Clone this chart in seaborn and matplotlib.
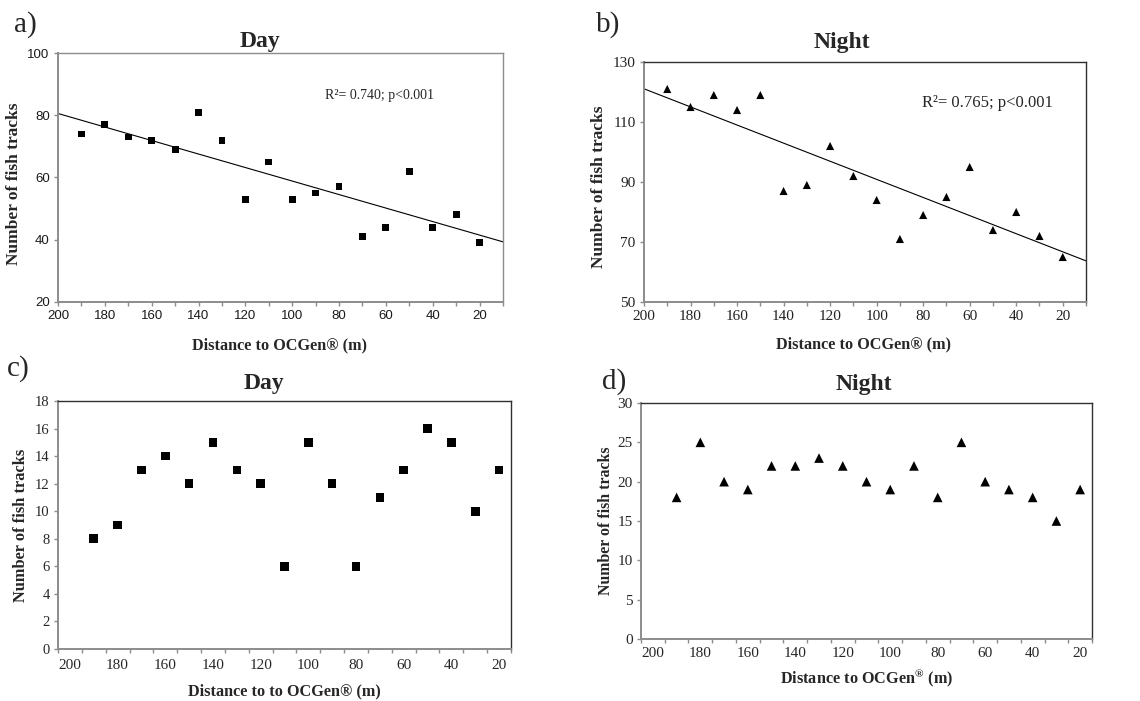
import numpy as np
import pandas as pd
import matplotlib
matplotlib.use("Agg")
import matplotlib.pyplot as plt
import seaborn as sns
from matplotlib.ticker import MultipleLocator, NullFormatter

# ---------------- data ----------------
distance = [190, 180, 170, 160, 150, 140, 130, 120, 110, 100, 90, 80, 70, 60, 50, 40, 30, 20]
day_tracks_a = [74, 77, 73, 72, 69, 81, 72, 53, 65, 53, 55, 57, 41, 44, 62, 44, 48, 39]
night_tracks_b = [121, 115, 119, 114, 119, 87, 89, 102, 92, 84, 71, 79, 85, 95, 74, 80, 72, 65]
day_tracks_c = [8, 9, 13, 14, 12, 15, 13, 12, 6, 15, 12, 6, 11, 13, 16, 15, 10, 13]
night_tracks_d = [18, 25, 20, 19, 22, 22, 23, 22, 20, 19, 22, 18, 25, 20, 19, 18, 15, 19]

yticks_a = [20, 40, 60, 80, 100]
yticks_b = [50, 70, 90, 110, 130]

panel_letters = ["a)", "b)", "c)", "d)"]
titles = ["Day", "Night", "Day", "Night"]
ylabel = "Number of fish tracks"
xlabels = ["Distance to OCGen® (m)", "Distance to OCGen® (m)",
           "Distance to to OCGen® (m)", r"Distance to OCGen$^{\mathbf{®}}$ (m)"]
stats_a = "R²= 0.740; p<0.001"
stats_b = "R²= 0.765; p<0.001"

# ---------------- style ----------------
sns.set_theme(style="white")
plt.rcParams['font.family'] = ['Liberation Serif', 'DejaVu Serif']
plt.rcParams['mathtext.fontset'] = 'custom'
plt.rcParams['mathtext.rm'] = 'Liberation Serif'
plt.rcParams['mathtext.bf'] = 'Liberation Serif:bold'

W, H = 1140, 701
fig = plt.figure(figsize=(W / 100, H / 100), dpi=100)
fig.patch.set_facecolor("white")

GREY = "#8c8c8c"
DARK = "#303030"


def add_ax(l, t, r, b):
    return fig.add_axes([l / W, 1 - b / H, (r - l) / W, (b - t) / H])


def style_spines(ax, topright):
    for s in ["left", "bottom"]:
        ax.spines[s].set_color(GREY)
        ax.spines[s].set_linewidth(1.4)
    for s in ["top", "right"]:
        ax.spines[s].set_color(topright)
        ax.spines[s].set_linewidth(1.0)


def ftext(x, y, s, **kw):
    fig.text(x / W, 1 - y / H, s, **kw)


df = pd.DataFrame({"distance": distance, "a": day_tracks_a, "b": night_tracks_b,
                   "c": day_tracks_c, "d": night_tracks_d})

# ---------------- panel a ----------------
ax_a = add_ax(58, 53, 503, 302)
ax_a.set_xlim(200, 10)
ax_a.set_ylim(20, 100)
sns.regplot(data=df, x="distance", y="a", ax=ax_a, scatter=False, ci=None, truncate=False,
            line_kws=dict(color="black", lw=0.8))
sns.scatterplot(data=df, x="distance", y="a", ax=ax_a, marker="s", s=24, color="black",
                edgecolor="none", zorder=3)
ax_a.set_xlim(200, 10)
ax_a.set_ylim(20, 100)
ax_a.xaxis.set_major_locator(MultipleLocator(20))
ax_a.xaxis.set_minor_locator(MultipleLocator(10))
ax_a.set_yticks(yticks_a)
style_spines(ax_a, GREY)
ax_a.tick_params(axis="both", which="both", direction="out", length=3, width=1, color=GREY,
                 bottom=True, left=True, pad=3)
for lab in ax_a.get_xticklabels() + ax_a.get_yticklabels():
    lab.set_family(["Liberation Sans", "DejaVu Sans"])
    lab.set_fontsize(9.5)
    lab.set_color("#1a1a1a")
ax_a.set_xlabel("")
ax_a.set_ylabel("")
ax_a.text(0.60, 0.83, stats_a, transform=ax_a.transAxes, fontsize=10, ha="left", va="center")

# ---------------- panel b ----------------
ax_b = add_ax(644, 62, 1086, 302)
ax_b.set_xlim(200, 10)
ax_b.set_ylim(50, 130)
sns.regplot(data=df, x="distance", y="b", ax=ax_b, scatter=False, ci=None, truncate=False,
            line_kws=dict(color="black", lw=0.8))
sns.scatterplot(data=df, x="distance", y="b", ax=ax_b, marker="^", s=34, color="black",
                edgecolor="none", zorder=3)
ax_b.set_xlim(200, 10)
ax_b.set_ylim(50, 130)
ax_b.xaxis.set_major_locator(MultipleLocator(20))
ax_b.xaxis.set_minor_locator(MultipleLocator(10))
ax_b.set_yticks(yticks_b)
style_spines(ax_b, DARK)
ax_b.tick_params(axis="both", which="both", direction="out", length=3, width=1, color=GREY,
                 bottom=True, left=True, pad=3, labelsize=11, labelcolor="#222222")
ax_b.set_xlabel("")
ax_b.set_ylabel("")
ax_b.text(0.63, 0.83, stats_b, transform=ax_b.transAxes, fontsize=12, ha="left", va="center")

# ---------------- panel c ----------------
ax_c = add_ax(58, 401, 511, 649)
sns.scatterplot(data=df, x="distance", y="c", ax=ax_c, marker="s", s=38, color="black",
                edgecolor="none", zorder=3)
ax_c.set_xlim(205, 15)
ax_c.set_ylim(0, 18)
ax_c.xaxis.set_major_locator(MultipleLocator(20))
ax_c.xaxis.set_minor_locator(MultipleLocator(10, offset=5))
ax_c.xaxis.set_minor_formatter(NullFormatter())
ax_c.yaxis.set_major_locator(MultipleLocator(2))
style_spines(ax_c, DARK)
ax_c.tick_params(axis="x", which="major", length=0, pad=7, labelsize=11)
ax_c.tick_params(axis="x", which="minor", direction="out", length=3, width=1, color=GREY, bottom=True)
ax_c.tick_params(axis="y", which="major", direction="out", length=3, width=1, color=GREY, left=True,
                 pad=3, labelsize=10.5)
ax_c.set_xlabel("")
ax_c.set_ylabel("")

# ---------------- panel d ----------------
ax_d = add_ax(641, 403, 1092, 639)
sns.scatterplot(data=df, x="distance", y="d", ax=ax_d, marker="^", s=48, color="black",
                edgecolor="none", zorder=3)
ax_d.set_xlim(205, 15)
ax_d.set_ylim(0, 30)
ax_d.xaxis.set_major_locator(MultipleLocator(20))
ax_d.xaxis.set_minor_locator(MultipleLocator(10, offset=5))
ax_d.xaxis.set_minor_formatter(NullFormatter())
ax_d.yaxis.set_major_locator(MultipleLocator(5))
style_spines(ax_d, DARK)
ax_d.tick_params(axis="x", which="major", length=0, pad=6, labelsize=11)
ax_d.tick_params(axis="x", which="minor", direction="out", length=3, width=1, color=GREY, bottom=True)
ax_d.tick_params(axis="y", which="major", direction="out", length=3, width=1, color=GREY, left=True,
                 pad=3, labelsize=11)
ax_d.set_xlabel("")
ax_d.set_ylabel("")

# ---------------- texts ----------------
# panel letters
ftext(14, 32, panel_letters[0], fontsize=21, ha="left", va="baseline")
ftext(596, 32, panel_letters[1], fontsize=21, ha="left", va="baseline")
ftext(7, 376, panel_letters[2], fontsize=21, ha="left", va="baseline")
ftext(602, 389, panel_letters[3], fontsize=21, ha="left", va="baseline")

# titles
ftext(260, 47, titles[0], fontsize=17, fontweight="bold", ha="center", va="baseline")
ftext(842, 48, titles[1], fontsize=17, fontweight="bold", ha="center", va="baseline")
ftext(264, 389, titles[2], fontsize=17, fontweight="bold", ha="center", va="baseline")
ftext(864, 390, titles[3], fontsize=17, fontweight="bold", ha="center", va="baseline")

# x labels
ftext(280, 345, xlabels[0], fontsize=11.7, fontweight="bold", ha="center", va="center")
ftext(864, 344, xlabels[1], fontsize=11.7, fontweight="bold", ha="center", va="center")
ftext(284, 691, xlabels[2], fontsize=11.7, fontweight="bold", ha="center", va="center")
ftext(867, 678, xlabels[3], fontsize=11.7, fontweight="bold", ha="center", va="center")

# y labels
ftext(14, 184, ylabel, fontsize=12.5, fontweight="bold", rotation=90, ha="center", va="center")
ftext(599, 187, ylabel, fontsize=12.5, fontweight="bold", rotation=90, ha="center", va="center")
ftext(21, 525, ylabel, fontsize=11.8, fontweight="bold", rotation=90, ha="center", va="center")
ftext(606, 521, ylabel, fontsize=11.4, fontweight="bold", rotation=90, ha="center", va="center")

fig.savefig("out.png", dpi=100, facecolor="white")
